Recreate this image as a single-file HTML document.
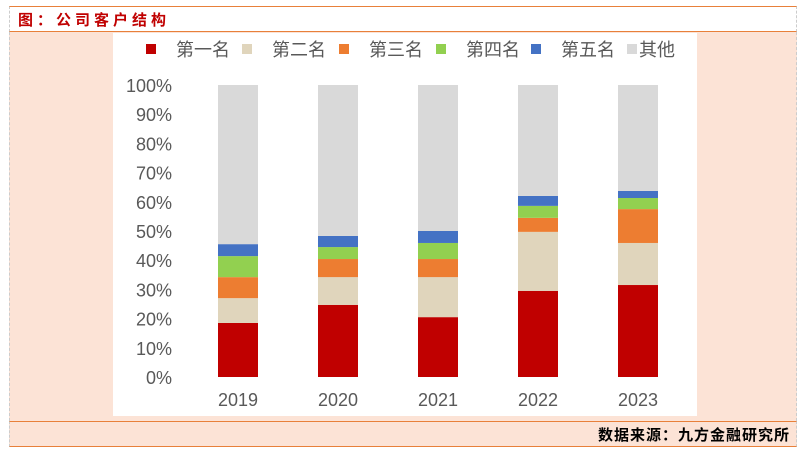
<!DOCTYPE html>
<html><head><meta charset="utf-8"><style>
body{margin:0;width:802px;height:458px;background:#fff;position:relative;overflow:hidden;font-family:"Liberation Sans","Noto Sans CJK SC",sans-serif}
.abs{position:absolute}
</style></head><body>
<div class="abs" style="left:9px;top:6px;width:786px;height:24px;border-top:1px solid #e8803a;border-bottom:1px solid #e8803a;border-left:1px dashed #ccc;border-right:1px dashed #ccc;background:#fff"></div>
<div class="abs" style="left:18px;top:9px;font-size:15px;font-weight:bold;color:#c00000;letter-spacing:4px;font-family:'Noto Sans CJK SC',sans-serif">图：公司客户结构</div>
<div class="abs" style="left:9px;top:32px;width:786px;height:389px;background:#fce3d6;border-left:1px dashed #ccc;border-right:1px dashed #ccc"></div>
<div class="abs" style="left:9px;top:421px;width:786px;height:24px;background:#fce3d6;border-top:1px solid #e8803a;border-bottom:1px solid #e8803a;border-left:1px dashed #ccc;border-right:1px dashed #ccc"></div>
<div class="abs" style="right:12px;top:424px;font-size:15px;font-weight:bold;color:#000;letter-spacing:1px">数据来源：九方金融研究所</div>
<svg class="abs" style="left:0;top:0" width="802" height="458" id="chart">
<rect x="113" y="33" width="584" height="383" fill="#fff"/>
</svg>
<script>
const categories=["2019","2020","2021","2022","2023"];
const seriesNames=["第一名","第二名","第三名","第四名","第五名","其他"];
const colors=["#c00000","#e0d5bc","#ed7d31","#92d050","#4472c4","#d9d9d9"];
const s1=[18.5,24.7,20.5,29.5,31.5];
const s2=[8.5,9.5,13.7,20.2,14.4];
const s3=[7.2,6.2,6.2,4.8,11.6];
const s4=[7.2,4.1,5.5,4.1,3.8];
const s5=[4.1,3.8,4.1,3.4,2.4];
const yTicks=[0,10,20,30,40,50,60,70,80,90,100];
const svg=document.getElementById('chart');
const NS="http://www.w3.org/2000/svg";
const y=v=>377-v*2.92;
const x=i=>238+i*100;
function mk(t,a){const e=document.createElementNS(NS,t);for(const k in a)e.setAttribute(k,a[k]);svg.appendChild(e);return e;}
yTicks.forEach(t=>{const e=mk('text',{x:172,y:y(t)+7,'text-anchor':'end','font-size':18,fill:'#595959'});e.textContent=t+'%';

});
const series=[s1,s2,s3,s4,s5];
categories.forEach((c,i)=>{let acc=0;
series.forEach((s,k)=>{const r=mk('rect',{x:x(i)-20,y:y(acc+s[i]),width:40,height:s[i]*2.92,fill:colors[k]});acc+=s[i];

});
const o=mk('rect',{x:x(i)-20,y:y(100),width:40,height:(100-acc)*2.92,fill:colors[5]});


const t=mk('text',{x:x(i),y:406,'text-anchor':'middle','font-size':18,fill:'#595959'});t.textContent=c;

});
const lx=[146,242,339,436,531,627];
const tx=[176,272,369,466,561,639];
seriesNames.forEach((n,k)=>{const r=mk('rect',{x:lx[k],y:44,width:10,height:10,fill:colors[k]});


const t=mk('text',{x:tx[k],y:56,'font-size':18,fill:'#595959'});t.textContent=n;

});
</script>
</body></html>
